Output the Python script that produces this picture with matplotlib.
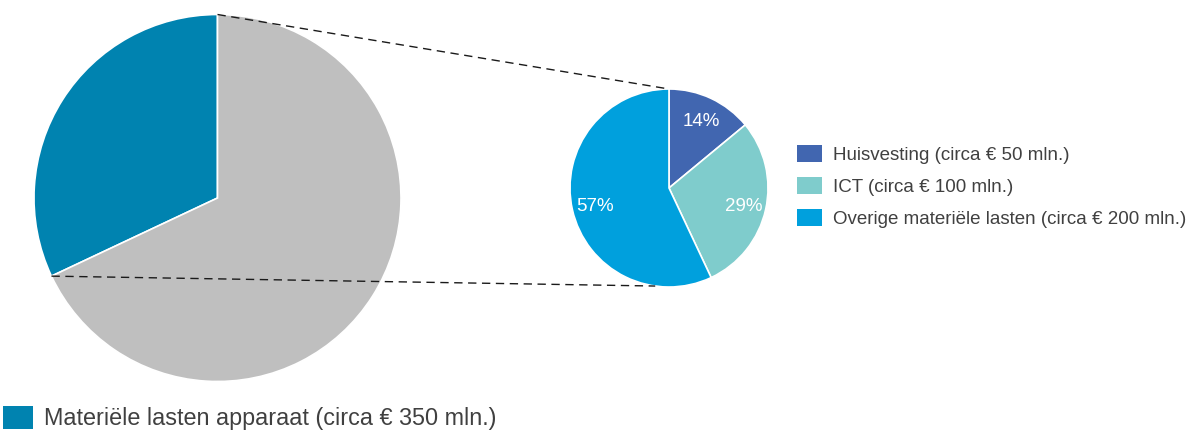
import numpy as np
import matplotlib
matplotlib.use("Agg")
import matplotlib.pyplot as plt
from matplotlib.patches import Rectangle

plt.rcParams['font.family'] = ['Liberation Sans', 'DejaVu Sans']

# big pie: materiële lasten vs rest
big_values = [32, 68]
big_colors = ['#0083B0', '#BFBFBF']
big_label = 'Materiële lasten apparaat (circa € 350 mln.)'

# small pie: breakdown of materiële lasten
small_values = [14, 29, 57]
small_colors = ['#4166B0', '#7FCCCC', '#00A0DD']
small_labels = ['Huisvesting (circa € 50 mln.)',
                'ICT (circa € 100 mln.)',
                'Overige materiële lasten (circa € 200 mln.)']

W, H = 1195, 430
fig = plt.figure(figsize=(W / 100, H / 100), dpi=100)
ax = fig.add_axes([0, 0, 1, 1])

big_c = (217.5, H - 198)
big_r = 183.5
small_c = (669, H - 188)
small_r = 99

ax.pie(big_values, colors=big_colors, startangle=90, counterclock=True,
       center=big_c, radius=big_r, frame=True,
       wedgeprops=dict(edgecolor='white', linewidth=1.2))

wedges, texts, autotexts = ax.pie(
    small_values, colors=small_colors, startangle=90, counterclock=False,
    center=small_c, radius=small_r, frame=True, autopct='%d%%',
    pctdistance=0.77, wedgeprops=dict(edgecolor='white', linewidth=1.2),
    textprops=dict(color='white', fontsize=13.5))
for t in autotexts:
    x, y = t.get_position()
    t.set_position((x, y - 2))

# connector lines
a_top = np.deg2rad(90)
a_bot = np.deg2rad(90 + big_values[0] / sum(big_values) * 360)
p1 = (big_c[0] + big_r * np.cos(a_top), big_c[1] + big_r * np.sin(a_top))
p2 = (big_c[0] + big_r * np.cos(a_bot), big_c[1] + big_r * np.sin(a_bot))
q1 = (small_c[0], small_c[1] + small_r)
q2 = (small_c[0] + small_r * np.cos(np.deg2rad(-98)),
      small_c[1] + small_r * np.sin(np.deg2rad(-98)))
for a, b in [(p1, q1), (p2, q2)]:
    ax.plot([a[0], b[0]], [a[1], b[1]], color='#1a1a1a', lw=1.0,
            ls=(0, (6, 4)), zorder=5)

# right legend
txt_color = '#404040'
for i, (lab, col) in enumerate(zip(small_labels, small_colors)):
    top = 145 + i * 32
    ax.add_patch(Rectangle((797, H - top - 17), 25, 17, color=col, lw=0))
    ax.text(833, H - top - 10.5, lab, fontsize=13.5, color=txt_color,
            va='center', ha='left')

# bottom legend
ax.add_patch(Rectangle((3, H - 429), 30, 23, color=big_colors[0], lw=0))
ax.text(44, H - 419, big_label, fontsize=16.8, color=txt_color,
        va='center', ha='left')

ax.set_xlim(0, W)
ax.set_ylim(0, H)
ax.set_aspect('equal')
ax.axis('off')

fig.savefig('out.png', dpi=100)
